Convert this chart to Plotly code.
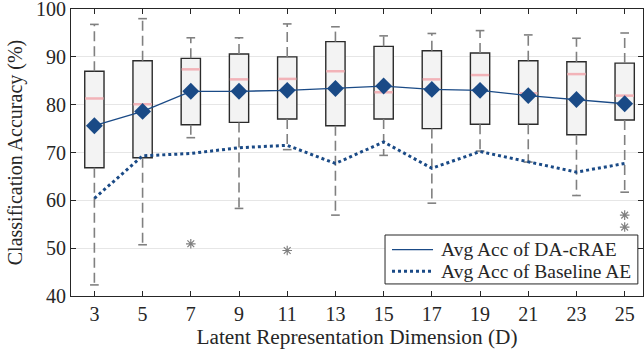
import plotly.graph_objects as go

dims = [3, 5, 7, 9, 11, 13, 15, 17, 19, 21, 23, 25]
q1 = [66.8, 68.9, 75.8, 76.3, 77.0, 75.6, 77.0, 75.0, 75.9, 75.9, 73.7, 76.8]
q3 = [87.0, 89.2, 89.7, 90.6, 90.0, 93.2, 92.2, 91.3, 90.8, 89.2, 89.0, 88.7]
median = [81.3, 80.1, 87.4, 85.3, 85.4, 87.0, 82.6, 85.3, 86.2, 82.4, 86.4, 81.9]
whisk_hi = [96.8, 98.0, 94.0, 94.0, 96.9, 96.3, 94.4, 94.9, 95.5, 94.6, 93.9, 95.0]
whisk_lo = [42.3, 50.7, 73.1, 58.3, 70.6, 56.9, 69.4, 59.4, 70.3, 68.0, 61.0, 61.7]
mean_acc = [75.6, 78.6, 82.8, 82.8, 83.0, 83.4, 83.9, 83.2, 83.0, 81.9, 81.1, 80.2]
baseline_acc = [60.4, 69.3, 69.8, 71.0, 71.5, 67.7, 72.2, 66.7, 70.2, 68.0, 65.9, 67.7]
outlier_dims = [7, 11, 25, 25]
outlier_vals = [50.9, 49.5, 56.9, 54.4]
y_ticks = [40, 50, 60, 70, 80, 90, 100]
legend_labels = ["Avg Acc of DA-cRAE", "Avg Acc of Baseline AE"]

BOX_W = 0.8
CAP_HW = 0.18
MED_HW = 0.38
BLUE = "#1a4a86"
GRAY = "#808080"
TXT = "#262626"
FONT = "Liberation Serif"

fig = go.Figure()

# boxes
fig.add_trace(go.Bar(
    x=dims, y=[b - a for a, b in zip(q1, q3)], base=q1, width=BOX_W,
    marker=dict(color="#f3f3f3", line=dict(color="#2b2b2b", width=1.4)),
    showlegend=False, hoverinfo="skip"))

# whiskers (dashed)
wx, wy = [], []
for d, a, b, lo, hi in zip(dims, q1, q3, whisk_lo, whisk_hi):
    wx += [d, d, None, d, d, None]
    wy += [b, hi, None, a, lo, None]
fig.add_trace(go.Scatter(x=wx, y=wy, mode="lines",
                         line=dict(color=GRAY, width=1.6, dash="10px,5px"),
                         showlegend=False, hoverinfo="skip"))

# caps
cx, cy = [], []
for d, lo, hi in zip(dims, whisk_lo, whisk_hi):
    cx += [d - CAP_HW, d + CAP_HW, None, d - CAP_HW, d + CAP_HW, None]
    cy += [hi, hi, None, lo, lo, None]
fig.add_trace(go.Scatter(x=cx, y=cy, mode="lines",
                         line=dict(color=GRAY, width=1.6),
                         showlegend=False, hoverinfo="skip"))

# medians
mx, my = [], []
for d, m in zip(dims, median):
    mx += [d - MED_HW, d + MED_HW, None]
    my += [m, m, None]
fig.add_trace(go.Scatter(x=mx, y=my, mode="lines",
                         line=dict(color="#f2b3b8", width=2.5),
                         showlegend=False, hoverinfo="skip"))

# outliers
fig.add_trace(go.Scatter(x=outlier_dims, y=outlier_vals, mode="markers",
                         marker=dict(symbol="asterisk-open", size=8, color=GRAY,
                                     line=dict(color=GRAY, width=1.2)),
                         showlegend=False, hoverinfo="skip"))

# baseline
fig.add_trace(go.Scatter(x=dims, y=baseline_acc, mode="lines",
                         name=legend_labels[1],
                         line=dict(color=BLUE, width=3, dash="dot"),
                         showlegend=False))

# mean line
fig.add_trace(go.Scatter(x=dims, y=mean_acc, mode="lines",
                         name=legend_labels[0],
                         line=dict(color=BLUE, width=1.3), showlegend=False))
fig.add_trace(go.Scatter(x=dims, y=mean_acc, mode="markers",
                         marker=dict(symbol="diamond", size=13, color=BLUE),
                         showlegend=False, hoverinfo="skip"))

# legend box (drawn in paper coordinates)
LX0, LX1, LY0, LY1 = 0.549, 0.991, 0.042, 0.2125
ROW_Y = [0.1613, 0.0861]
SX0, SX1, TX = 0.5612, 0.6329, 0.6434
fig.add_shape(type="rect", xref="paper", yref="paper", x0=LX0, x1=LX1, y0=LY0, y1=LY1,
              fillcolor="white", line=dict(color=TXT, width=1), layer="above")
dashes = ["solid", "dot"]
widths = [1.3, 3]
for lab, yy, ds, w in zip(legend_labels, ROW_Y, dashes, widths):
    fig.add_shape(type="line", xref="paper", yref="paper", x0=SX0, x1=SX1, y0=yy, y1=yy,
                  line=dict(color=BLUE, width=w, dash=ds), layer="above")
    fig.add_annotation(xref="paper", yref="paper", x=TX, y=yy, text=lab,
                       showarrow=False, xanchor="left", yanchor="middle",
                       font=dict(family=FONT, size=19.5, color=TXT))

axis_common = dict(
    showline=True, linecolor=TXT, linewidth=1, mirror="ticks",
    ticks="inside", ticklen=5, tickcolor=TXT, zeroline=False,
    ticklabeloverflow="allow",
    tickfont=dict(family=FONT, size=20, color=TXT),
)

fig.update_layout(
    width=644, height=358,
    margin=dict(l=71, r=1, t=9, b=62, autoexpand=False),
    plot_bgcolor="white", paper_bgcolor="white",
    barmode="overlay",
    showlegend=False,
    font=dict(family=FONT, size=20, color=TXT),
    xaxis=dict(range=[2.03, 25.76], tickvals=dims, showgrid=False,
               title=dict(text="Latent Representation Dimension (D)",
                          font=dict(family=FONT, size=21.3, color=TXT), standoff=5),
               **axis_common),
    yaxis=dict(range=[39.98, 100.02], tickvals=y_ticks,
               showgrid=True, gridcolor="#e6e6e6", gridwidth=1,
               title=dict(text="Classification Accuracy (%)",
                          font=dict(family=FONT, size=20, color=TXT), standoff=8),
               **axis_common),
)

fig.write_html("out.html", config={"displayModeBar": False},
               post_script="document.body.style.margin='0';document.body.style.overflow='hidden';")
